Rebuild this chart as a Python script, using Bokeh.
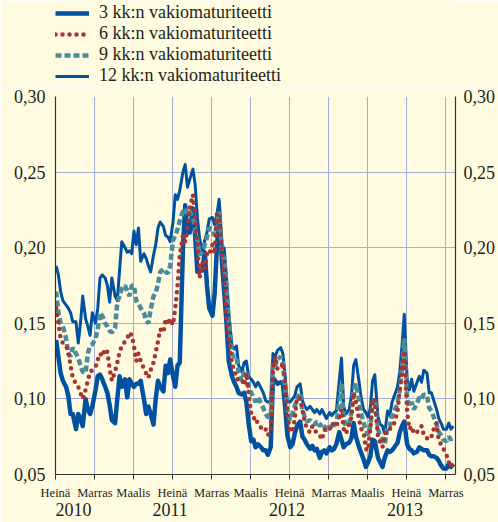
import pandas as pd
from bokeh.plotting import figure
from bokeh.layouts import column
from bokeh.models import (Legend, LegendItem, LinearAxis, FixedTicker,
                          CustomJSTickFormatter, Range1d)
from bokeh.embed import file_html
from bokeh.resources import INLINE

# ---------------- data (weekly readings, 4 per month, Jul 2010 - Nov 2013) ----------------
months = pd.period_range("2010-07", "2013-11", freq="M")
week_days = [3, 10, 17, 24]

m12 = [
    0.188, 0.182, 0.171, 0.165,  0.162, 0.160, 0.157, 0.151,  0.151, 0.137, 0.150, 0.168,
    0.153, 0.148, 0.142, 0.157,  0.150, 0.160, 0.180, 0.182,  0.180, 0.175, 0.164, 0.180,
    0.168, 0.165, 0.185, 0.204,  0.200, 0.197, 0.198, 0.196,  0.211, 0.202, 0.213, 0.191,
    0.196, 0.193, 0.188, 0.184,  0.195, 0.202, 0.213, 0.217,  0.214, 0.208, 0.207, 0.204,
    0.217, 0.235, 0.232, 0.238,  0.250, 0.255, 0.240, 0.245,  0.252, 0.242, 0.220, 0.206,
    0.197, 0.205, 0.210, 0.219,  0.220, 0.215, 0.222, 0.232,  0.202, 0.199, 0.180, 0.157,
    0.135, 0.133, 0.135, 0.122,  0.118, 0.124, 0.125, 0.115,  0.113, 0.111, 0.108, 0.111,
    0.107, 0.104, 0.099, 0.098,  0.098, 0.130, 0.128, 0.132,  0.134, 0.130, 0.115, 0.098,
    0.098, 0.100, 0.102, 0.108,  0.110, 0.099, 0.095, 0.093,  0.095, 0.093, 0.091, 0.093,
    0.090, 0.093, 0.090, 0.087,  0.091, 0.089, 0.091, 0.092,  0.112, 0.127, 0.095, 0.090,
    0.093, 0.102, 0.122, 0.126,  0.111, 0.100, 0.093, 0.091,  0.088, 0.094, 0.112, 0.116,
    0.088, 0.083, 0.082, 0.077,  0.092, 0.089, 0.098, 0.102,  0.108, 0.118, 0.135, 0.156,
    0.113, 0.106, 0.113, 0.105,  0.111, 0.115, 0.111, 0.119,  0.117, 0.104, 0.104, 0.099,
    0.093, 0.087, 0.084, 0.080,  0.080, 0.084, 0.080, 0.082,
]

m9 = [
    0.171, 0.157, 0.150, 0.148,  0.140, 0.130, 0.128, 0.134,  0.130, 0.127, 0.122, 0.118,
    0.117, 0.130, 0.135, 0.136,  0.140, 0.146, 0.157, 0.155,  0.150, 0.148, 0.145, 0.144,
    0.147, 0.164, 0.168, 0.173,  0.175, 0.171, 0.168, 0.175,  0.175, 0.165, 0.163, 0.160,
    0.157, 0.152, 0.150, 0.159,  0.168, 0.170, 0.176, 0.184,  0.186, 0.184, 0.183, 0.188,
    0.205, 0.208, 0.212, 0.218,  0.224, 0.226, 0.222, 0.224,  0.220, 0.212, 0.205, 0.195,
    0.198, 0.202, 0.207, 0.213,  0.212, 0.208, 0.215, 0.224,  0.196, 0.192, 0.174, 0.152,
    0.130, 0.128, 0.128, 0.117,  0.112, 0.118, 0.118, 0.108,  0.104, 0.101, 0.098, 0.101,
    0.097, 0.094, 0.090, 0.088,  0.088, 0.124, 0.122, 0.126,  0.128, 0.124, 0.108, 0.091,
    0.086, 0.090, 0.095, 0.100,  0.104, 0.093, 0.088, 0.085,  0.086, 0.084, 0.083, 0.085,
    0.082, 0.084, 0.082, 0.079,  0.082, 0.080, 0.083, 0.084,  0.098, 0.110, 0.087, 0.082,
    0.084, 0.091, 0.106, 0.110,  0.099, 0.090, 0.084, 0.080,  0.076, 0.082, 0.096, 0.100,
    0.080, 0.075, 0.073, 0.070,  0.082, 0.082, 0.089, 0.092,  0.097, 0.106, 0.120, 0.140,
    0.100, 0.095, 0.098, 0.093,  0.097, 0.101, 0.100, 0.103,  0.102, 0.094, 0.092, 0.088,
    0.083, 0.078, 0.076, 0.073,  0.072, 0.075, 0.073, 0.075,
]

m6 = [
    0.160, 0.150, 0.140, 0.137,  0.135, 0.131, 0.122, 0.114,  0.110, 0.108, 0.104, 0.100,
    0.106, 0.112, 0.118, 0.119,  0.121, 0.126, 0.130, 0.128,  0.133, 0.131, 0.120, 0.112,
    0.118, 0.124, 0.131, 0.135,  0.138, 0.140, 0.144, 0.142,  0.135, 0.125, 0.130, 0.125,
    0.120, 0.117, 0.114, 0.119,  0.124, 0.131, 0.138, 0.146,  0.144, 0.153, 0.149, 0.153,
    0.149, 0.160, 0.175, 0.195,  0.208, 0.204, 0.212, 0.226,  0.235, 0.222, 0.202, 0.180,
    0.190, 0.186, 0.197, 0.196,  0.202, 0.196, 0.222, 0.220,  0.197, 0.180, 0.152, 0.140,
    0.123, 0.119, 0.113, 0.113,  0.113, 0.109, 0.117, 0.103,  0.090, 0.087, 0.088, 0.083,
    0.081, 0.079, 0.080, 0.076,  0.079, 0.120, 0.128, 0.120,  0.120, 0.124, 0.110, 0.090,
    0.078, 0.079, 0.086, 0.101,  0.100, 0.093, 0.085, 0.080,  0.078, 0.082, 0.079, 0.078,
    0.076, 0.073, 0.079, 0.081,  0.080, 0.084, 0.082, 0.082,  0.088, 0.093, 0.080, 0.077,
    0.083, 0.088, 0.104, 0.098,  0.086, 0.080, 0.078, 0.067,  0.066, 0.080, 0.100, 0.099,
    0.075, 0.071, 0.068, 0.075,  0.080, 0.080, 0.083, 0.084,  0.092, 0.106, 0.120, 0.132,
    0.091, 0.080, 0.082, 0.077,  0.078, 0.080, 0.082, 0.076,  0.074, 0.073, 0.075, 0.080,
    0.084, 0.072, 0.070, 0.067,  0.063, 0.058, 0.055, 0.060,
]

m3 = [
    0.139, 0.128, 0.117, 0.112,  0.108, 0.102, 0.090, 0.090,  0.080, 0.090, 0.087, 0.082,
    0.100, 0.093, 0.090, 0.095,  0.106, 0.115, 0.116, 0.113,  0.108, 0.104, 0.096, 0.086,
    0.084, 0.100, 0.115, 0.108,  0.113, 0.101, 0.113, 0.110,  0.108, 0.110, 0.110, 0.112,
    0.100, 0.090, 0.095, 0.090,  0.083, 0.100, 0.112, 0.108,  0.105, 0.122, 0.117, 0.126,
    0.115, 0.108, 0.122, 0.124,  0.200, 0.228, 0.210, 0.210,  0.226, 0.208, 0.184, 0.185,
    0.185, 0.197, 0.175, 0.160,  0.155, 0.170, 0.200, 0.220,  0.190, 0.170, 0.150, 0.125,
    0.115, 0.111, 0.108, 0.104,  0.103, 0.104, 0.098, 0.084,  0.072, 0.073, 0.068, 0.070,
    0.068, 0.066, 0.066, 0.063,  0.068, 0.114, 0.112, 0.110,  0.111, 0.110, 0.095, 0.076,
    0.068, 0.070, 0.077, 0.082,  0.085, 0.075, 0.073, 0.070,  0.067, 0.069, 0.066, 0.067,
    0.061, 0.065, 0.066, 0.064,  0.068, 0.066, 0.067, 0.070,  0.078, 0.073, 0.068, 0.070,
    0.071, 0.074, 0.084, 0.075,  0.068, 0.064, 0.060, 0.055,  0.058, 0.062, 0.073, 0.072,
    0.061, 0.058, 0.055, 0.061,  0.066, 0.065, 0.066, 0.068,  0.071, 0.078, 0.082, 0.085,
    0.070, 0.067, 0.066, 0.064,  0.065, 0.068, 0.067, 0.066,  0.066, 0.063, 0.062, 0.062,
    0.061, 0.059, 0.056, 0.054,  0.054, 0.057, 0.055, 0.057,
]

series_names = ["3 kk:n vakiomaturiteetti", "6 kk:n vakiomaturiteetti",
                "9 kk:n vakiomaturiteetti", "12 kk:n vakiomaturiteetti"]

month_tick_dates = ["2010-07-01", "2010-11-01", "2011-03-01", "2011-07-01", "2011-11-01",
                    "2012-03-01", "2012-07-01", "2012-11-01", "2013-03-01", "2013-07-01",
                    "2013-11-01"]
month_tick_labels = ["Heinä", "Marras", "Maalis", "Heinä", "Marras", "Maalis", "Heinä",
                     "Marras", "Maalis", "Heinä", "Marras"]
year_label_dates = ["2010-08-26", "2011-06-24", "2012-06-23", "2013-06-26"]
year_labels = ["2010", "2011", "2012", "2013"]
y_ticks = [0.05, 0.10, 0.15, 0.20, 0.25, 0.30]

# ---------------- helpers ----------------
def ms(s):
    return float(pd.Timestamp(s).value // 10**6)

dates = [pd.Timestamp(year=m.year, month=m.month, day=d) for m in months for d in week_days]
xs = [float(d.value // 10**6) for d in dates]

BG = "#FEFBE1"
GRID = "#A4ADDA"
FONT = "Liberation Serif"
TXT = "#231F20"
BLUE = "#0052A1"
RED = "#A9332E"
TEAL = "#4C8B99"
AXIS = "#333333"

STYLES = [
    dict(line_color=BLUE, line_width=4.5, line_join="round"),                 # 3 kk
    dict(line_color=RED, line_width=4.5, line_dash="0 7", line_cap="round"),  # 6 kk
    dict(line_color=TEAL, line_width=4.5, line_dash="6 3"),                   # 9 kk
    dict(line_color=BLUE, line_width=3, line_join="round"),                   # 12 kk
]

# ---------------- main chart ----------------
p = figure(width=498, height=436, output_backend="svg", toolbar_location=None,
           x_range=Range1d(ms("2010-07-01"), ms("2013-12-01")),
           y_range=Range1d(0.05, 0.30),
           x_axis_location=None, y_axis_location=None,
           min_border_left=55, min_border_right=42, min_border_top=10, min_border_bottom=48)
p.background_fill_color = BG
p.border_fill_color = BG
p.outline_line_color = None

fmt_y = CustomJSTickFormatter(code="return tick.toFixed(2).replace('.', ',');")
for side, standoff in (("left", 10), ("right", 8)):
    ax = LinearAxis(ticker=FixedTicker(ticks=y_ticks), formatter=fmt_y)
    ax.major_tick_line_color = None
    ax.major_tick_out = 0
    ax.major_tick_in = 0
    ax.minor_tick_line_color = None
    ax.axis_line_color = AXIS
    ax.axis_line_width = 1.2
    ax.major_label_text_font = FONT
    ax.major_label_text_font_size = "18px"
    ax.major_label_text_color = TXT
    ax.major_label_standoff = standoff
    p.add_layout(ax, side)

mticks = [ms(d) for d in month_tick_dates]
xax = LinearAxis(ticker=FixedTicker(ticks=mticks))
xax.major_label_overrides = {t: lab for t, lab in zip(mticks, month_tick_labels)}
xax.minor_tick_line_color = None
xax.major_tick_in = 0
xax.major_tick_out = 5
xax.major_tick_line_color = AXIS
xax.axis_line_color = AXIS
xax.axis_line_width = 1.2
xax.major_label_text_font = FONT
xax.major_label_text_font_size = "12.5px"
xax.major_label_text_color = TXT
xax.major_label_standoff = 6
p.add_layout(xax, "below")

yticks_x = [ms(d) for d in year_label_dates]
yax = LinearAxis(ticker=FixedTicker(ticks=yticks_x))
yax.major_label_overrides = {t: lab for t, lab in zip(yticks_x, year_labels)}
yax.axis_line_color = None
yax.major_tick_line_color = None
yax.major_tick_out = 0
yax.major_tick_in = 0
yax.minor_tick_line_color = None
yax.major_label_text_font = FONT
yax.major_label_text_font_size = "18px"
yax.major_label_text_color = TXT
yax.major_label_standoff = 0
p.add_layout(yax, "below")

p.xgrid.ticker = FixedTicker(ticks=mticks)
p.ygrid.ticker = FixedTicker(ticks=y_ticks)
for g in (p.xgrid, p.ygrid):
    g.grid_line_color = GRID
    g.grid_line_width = 1

p.line(xs, m3, **STYLES[0])
p.line(xs, m12, **STYLES[3])
p.line(xs, m9, **STYLES[2])
p.line(xs, m6, **STYLES[1])

# ---------------- legend strip above the chart ----------------
lg = figure(width=498, height=86, output_backend="svg", toolbar_location=None,
            x_range=Range1d(0, 1), y_range=Range1d(0, 1),
            x_axis_location=None, y_axis_location=None,
            min_border_left=0, min_border_right=0, min_border_top=0, min_border_bottom=0)
lg.background_fill_color = BG
lg.border_fill_color = BG
lg.outline_line_color = None
lg.xgrid.visible = False
lg.ygrid.visible = False
items = []
for name, st in zip(series_names, STYLES):
    # key-only renderer: its two points lie outside the visible range of this strip
    r = lg.line([5, 6], [5, 6], **st)
    items.append(LegendItem(label=name, renderers=[r]))
legend = Legend(items=items, orientation="vertical", location=(0, 0))
legend.background_fill_alpha = 0
legend.border_line_color = None
legend.label_text_font = FONT
legend.label_text_font_size = "18px"
legend.label_text_color = TXT
legend.glyph_width = 34
legend.glyph_height = 20
legend.label_height = 20
legend.label_standoff = 10
legend.spacing = 0
legend.padding = 2
legend.margin = 0
lg.add_layout(legend, "center")

layout = column(lg, p, spacing=0)
open("out.html", "w").write(file_html(layout, INLINE))
